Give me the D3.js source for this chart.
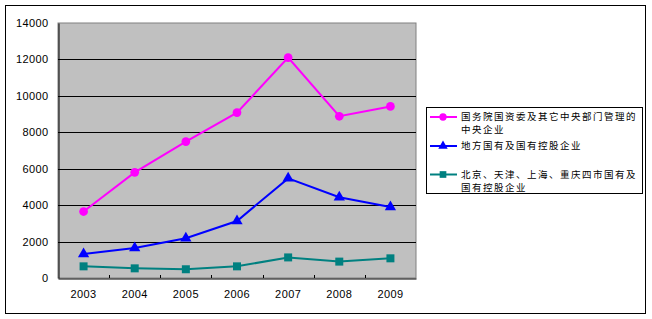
<!DOCTYPE html>
<html>
<head>
<meta charset="utf-8">
<script src="https://cdn.jsdelivr.net/npm/d3@7"></script>
<style>
  body { margin: 0; background: #fff; }
  text { font-family: "Liberation Sans", Arial, sans-serif; }
  .leg text { font-family: "Noto Sans CJK SC", sans-serif; }
</style>
</head>
<body>
<div id="chart"></div>
<script>
const years = ["2003", "2004", "2005", "2006", "2007", "2008", "2009"];
const centralSOE = [3650, 5800, 7490, 9080, 12100, 8880, 9420];
const localSOE = [1320, 1650, 2180, 3130, 5470, 4430, 3900];
const fourCitySOE = [640, 530, 480, 640, 1130, 900, 1080];
const yTicks = [0, 2000, 4000, 6000, 8000, 10000, 12000, 14000];
const seriesNames = [
  ["国务院国资委及其它中央部门管理的", "中央企业"],
  ["地方国有及国有控股企业"],
  ["北京、天津、上海、重庆四市国有及", "国有控股企业"]
];

let width = 652,
    height = 319;

let svg = d3.select("#chart").append("svg")
  .attr("width", width)
  .attr("height", height);

// outer frame
svg.append("rect")
  .attr("x", 5.5).attr("y", 5.5)
  .attr("width", 640).attr("height", 308)
  .attr("fill", "none").attr("stroke", "#000").attr("stroke-width", 1);

let plot = { left: 58, top: 23, right: 416, bottom: 278 };

let x = d3.scaleBand()
  .domain(years)
  .range([plot.left, plot.right]);

let y = d3.scaleLinear()
  .domain([0, 14000])
  .range([plot.bottom, plot.top]);

svg.append("rect")
  .attr("x", plot.left).attr("y", plot.top)
  .attr("width", plot.right - plot.left)
  .attr("height", plot.bottom - plot.top)
  .attr("fill", "#c0c0c0")
  .attr("stroke", "#808080");

// gridlines
svg.append("g")
  .selectAll("line")
  .data(yTicks.slice(1, -1))
  .enter().append("line")
    .attr("x1", plot.left).attr("x2", plot.right)
    .attr("y1", d => Math.round(y(d)) + 0.5)
    .attr("y2", d => Math.round(y(d)) + 0.5)
    .attr("stroke", "#000");

// y axis
let yAxis = svg.append("g")
  .attr("transform", `translate(${plot.left + 0.5},0)`)
  .call(d3.axisLeft(y).tickValues(yTicks).tickFormat(d3.format("d")).tickSize(0).tickPadding(10));
yAxis.select(".domain").attr("stroke", "#000");
yAxis.selectAll("text").attr("font-size", 11).attr("fill", "#000")
  .attr("letter-spacing", 0.4)
  .attr("font-family", "Liberation Sans, Arial, sans-serif");

// x axis
let xAxis = svg.append("g")
  .attr("transform", `translate(0,${plot.bottom + 0.5})`)
  .call(d3.axisBottom(x).tickSize(0).tickPadding(12));
xAxis.select(".domain").attr("stroke", "#000");
xAxis.selectAll("text").attr("font-size", 11).attr("fill", "#000")
  .attr("letter-spacing", 0.4)
  .attr("font-family", "Liberation Sans, Arial, sans-serif");

// category ticks pointing inward
svg.append("g")
  .selectAll("line")
  .data(years.slice(1))
  .enter().append("line")
    .attr("x1", d => Math.round(x(d)) + 0.5)
    .attr("x2", d => Math.round(x(d)) + 0.5)
    .attr("y1", plot.bottom - 3).attr("y2", plot.bottom)
    .attr("stroke", "#000");

let series = [
  { values: centralSOE, color: "#ff00ff", shape: d3.symbolCircle, size: 60 },
  { values: localSOE, color: "#0000ff", shape: d3.symbolTriangle, size: 55 },
  { values: fourCitySOE, color: "#008080", shape: d3.symbolSquare, size: 64 }
];

let line = d3.line()
  .x((d, i) => x(years[i]) + x.bandwidth() / 2)
  .y(d => y(d));

series.forEach(s => {
  svg.append("path")
    .attr("d", line(s.values))
    .attr("fill", "none")
    .attr("stroke", s.color)
    .attr("stroke-width", 2);

  svg.append("g")
    .selectAll("path")
    .data(s.values)
    .enter().append("path")
      .attr("d", d3.symbol().type(s.shape).size(s.size))
      .attr("transform", (d, i) => `translate(${x(years[i]) + x.bandwidth() / 2},${y(d)})`)
      .attr("fill", s.color);
});

// legend
let leg = svg.append("g").attr("class", "leg");
leg.append("rect")
  .attr("x", 426.5).attr("y", 107.5)
  .attr("width", 216).attr("height", 86)
  .attr("fill", "#fff").attr("stroke", "#000");

let legRows = [117, 146, 174.5];
series.forEach((s, i) => {
  let ly = legRows[i];
  leg.append("line")
    .attr("x1", 430).attr("x2", 457)
    .attr("y1", ly).attr("y2", ly)
    .attr("stroke", s.color).attr("stroke-width", 2);
  leg.append("path")
    .attr("d", d3.symbol().type(s.shape).size(s.size * 0.7))
    .attr("transform", `translate(443,${ly})`)
    .attr("fill", s.color);
  seriesNames[i].forEach((t, j) => {
    leg.append("text")
      .attr("x", 461)
      .attr("y", ly + j * 13)
      .attr("dy", "0.36em")
      .attr("font-size", 9.5)
      .attr("letter-spacing", 1.5)
      .attr("fill", "#000")
      .text(t);
  });
});
</script>
</body>
</html>
